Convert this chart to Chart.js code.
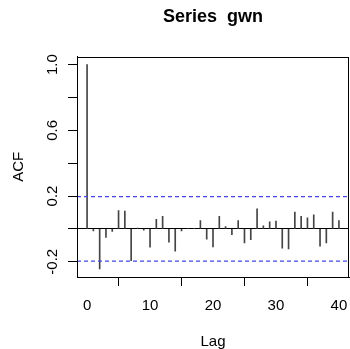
<!DOCTYPE html>
<html><head><meta charset="utf-8">
<script src="https://cdn.jsdelivr.net/npm/chart.js@4.4.1/dist/chart.umd.min.js"></script>
<style>html,body{margin:0;padding:0;background:#fff;overflow:hidden}</style>
</head><body>
<div style="width:350px;height:349px"><canvas id="c" width="350" height="349"></canvas></div>
<script>
const titleText = 'Series  gwn';
const xLabel = 'Lag';
const yLabel = 'ACF';
const lags = [0,1,2,3,4,5,6,7,8,9,10,11,12,13,14,15,16,17,18,19,20,21,22,23,24,25,26,27,28,29,30,31,32,33,34,35,36,37,38,39,40];
const acfValues = [1.0,-0.012,-0.244,-0.052,-0.015,0.112,0.108,-0.194,0.005,-0.008,-0.112,0.058,0.076,-0.081,-0.136,-0.013,0.004,0.004,0.050,-0.062,-0.110,0.077,0.014,-0.035,0.050,-0.085,-0.066,0.122,0.018,0.043,0.047,-0.117,-0.122,0.102,0.077,0.067,0.086,-0.106,-0.085,0.102,0.050];
const ciBound = 0.196;
const xTicks = [0,10,20,30,40];
const yTicks = [-0.2,0,0.2,0.4,0.6,0.8,1.0];
const yLabeled = [-0.2,0.2,0.6,1.0];
const xMin = -1.6, xMax = 41.6, yMin = -0.293, yMax = 1.049;

const FONT = "'Liberation Sans', Arial, Helvetica, sans-serif";

const boxPlugin = {
  id: 'rbox',
  afterDraw(chart) {
    const {ctx, chartArea: a} = chart;
    ctx.save();
    ctx.strokeStyle = '#000';
    ctx.lineWidth = 1;
    ctx.strokeRect(Math.round(a.left) + 0.5, Math.round(a.top) + 0.5, Math.round(a.right - a.left) - 1, Math.round(a.bottom - a.top));
    ctx.restore();
  }
};

new Chart(document.getElementById('c'), {
  type: 'bar',
  data: {
    datasets: [
      {
        type: 'bar',
        data: lags.map((l, i) => ({x: l, y: acfValues[i]})),
        backgroundColor: '#444',
        borderWidth: 0,
        barThickness: 1,
        order: 2
      },
      {
        type: 'line',
        data: [{x: xMin, y: ciBound}, {x: xMax, y: ciBound}],
        borderColor: '#4646ec',
        borderWidth: 1.2,
        borderDash: [4, 3],
        pointRadius: 0,
        order: 1
      },
      {
        type: 'line',
        data: [{x: xMin, y: -ciBound}, {x: xMax, y: -ciBound}],
        borderColor: '#4646ec',
        borderWidth: 1.2,
        borderDash: [4, 3],
        pointRadius: 0,
        order: 1
      }
    ]
  },
  options: {
    responsive: false,
    animation: false,
    devicePixelRatio: 1,
    layout: {padding: {top: 0, right: 1, bottom: 0, left: 0}},
    plugins: {
      legend: {display: false},
      tooltip: {enabled: false},
      title: {
        display: true,
        fullSize: false,
        text: titleText,
        color: '#000',
        font: {family: FONT, size: 18, weight: 'bold', lineHeight: 1.2},
        padding: {top: 6, bottom: 29}
      }
    },
    scales: {
      x: {
        type: 'linear',
        min: xMin, max: xMax,
        offset: false,
        afterBuildTicks: s => { s.ticks = xTicks.map(v => ({value: v})); },
        afterFit: s => { s.height = 72; s.paddingLeft = 0; s.paddingRight = 0; },
        grid: {display: true, drawOnChartArea: false, drawTicks: true, tickLength: 9, tickColor: '#000', color: '#000'},
        border: {display: true, color: '#000'},
        ticks: {color: '#000', font: {family: FONT, size: 15}, padding: 11, maxRotation: 0, autoSkip: false},
        title: {display: true, text: xLabel, color: '#000', font: {family: FONT, size: 15, lineHeight: 1}, padding: {top: 0, bottom: 0}}
      },
      y: {
        type: 'linear',
        min: yMin, max: yMax,
        afterBuildTicks: s => { s.ticks = yTicks.map(v => ({value: v})); },
        afterFit: s => { s.width = 77; s.paddingTop = 0; s.paddingBottom = 0; },
        grid: {
          display: true, drawOnChartArea: true, drawTicks: true, tickLength: 9, tickColor: '#000',
          color: c => (c.tick && Math.abs(c.tick.value) < 1e-9) ? '#000' : 'rgba(0,0,0,0)'
        },
        border: {display: true, color: '#000'},
        ticks: {
          color: '#000', font: {family: FONT, size: 15}, padding: 2,
          minRotation: 90, maxRotation: 90, crossAlign: 'center', autoSkip: false,
          callback: v => yLabeled.some(t => Math.abs(t - v) < 1e-9) ? v.toFixed(1) : ''
        },
        title: {display: true, text: yLabel, color: '#000', font: {family: FONT, size: 15, lineHeight: 1}, padding: {top: 11, bottom: 0}}
      }
    }
  },
  plugins: [boxPlugin]
});
</script>
</body></html>
